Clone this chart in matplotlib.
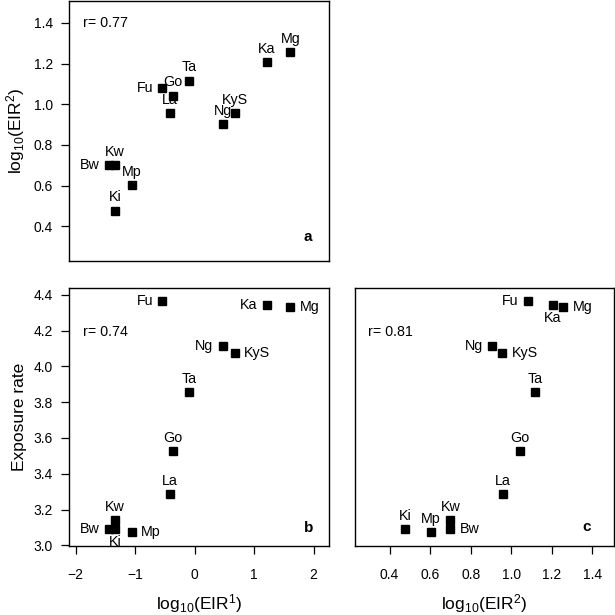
import matplotlib
matplotlib.use("Agg")
import matplotlib.pyplot as plt

plt.rcParams["font.family"] = ["Liberation Sans", "DejaVu Sans"]
plt.rcParams["mathtext.fontset"] = "custom"
plt.rcParams["mathtext.rm"] = "Liberation Sans"
plt.rcParams["mathtext.default"] = "regular"

# site data
sites = ["Bw", "Kw", "Ki", "Mp", "La", "Go", "Fu", "Ta", "Ng", "KyS", "Ka", "Mg"]
log_eir1 = [-1.45, -1.34, -1.34, -1.06, -0.42, -0.36, -0.55, -0.09, 0.47, 0.68, 1.21, 1.61]
log_eir2 = [0.70, 0.70, 0.478, 0.603, 0.957, 1.043, 1.08, 1.116, 0.904, 0.956, 1.206, 1.257]
exposure = [3.09, 3.143, 3.09, 3.074, 3.288, 3.525, 4.368, 3.858, 4.113, 4.076, 4.342, 4.33]

r_values = {"a": 0.77, "b": 0.74, "c": 0.81}

# label side per site: t=above, b=below, l=left, r=right
pos_a = ["l", "t", "t", "t", "t", "t", "l", "t", "t", "t", "t", "t"]
pos_b = ["l", "t", "b", "r", "t", "t", "l", "t", "l", "r", "l", "r"]
pos_c = ["r", "t", "t", "t", "t", "t", "l", "t", "l", "r", "b", "r"]

LBL = 10.3
TICK = 10
TITLE = 12.5
OFFSETS = {
    "t": ((0, 9.5), "center", "center"),
    "b": ((0, -9.0), "center", "center"),
    "l": ((-6.5, 0), "right", "center"),
    "r": ((6.5, 0), "left", "center"),
}


def scatter_panel(ax, x, y, positions):
    ax.plot(x, y, "s", color="black", markersize=5.6, linestyle="none")
    for xi, yi, name, p in zip(x, y, sites, positions):
        off, ha, va = OFFSETS[p]
        ax.annotate(name, (xi, yi), xytext=off, textcoords="offset points",
                    ha=ha, va=va, fontsize=LBL)


def style_axes(ax):
    for sp in ax.spines.values():
        sp.set_linewidth(1.0)
    ax.tick_params(direction="out", length=5.8, width=0.9, labelsize=TICK)
    ax.tick_params(axis="y", pad=6)
    ax.tick_params(axis="x", pad=10)


W = 615.0
fig = plt.figure(figsize=(6.15, 6.15), dpi=100)


def rect(x0, x1, top, bottom):
    return [x0 / W, 1 - bottom / W, (x1 - x0) / W, (bottom - top) / W]


ax_a = fig.add_axes(rect(69.3, 329, 1.3, 261))
ax_b = fig.add_axes(rect(69.3, 329, 287.7, 545.7))
ax_c = fig.add_axes(rect(355, 614, 287.7, 545.7))

eir1_lim = (-2.11, 2.26)
eir2_lim = (0.23, 1.506)
exp_lim = (2.998, 4.44)

# panel a
scatter_panel(ax_a, log_eir1, log_eir2, pos_a)
ax_a.set_xlim(*eir1_lim)
ax_a.set_ylim(*eir2_lim)
ax_a.set_xticks([])
ax_a.set_yticks([0.4, 0.6, 0.8, 1.0, 1.2, 1.4])
ax_a.set_ylabel(r"$log_{10}(EIR^2)$", fontsize=TITLE, labelpad=5)
style_axes(ax_a)
ax_a.text(0.052, 0.915, f"r= {r_values['a']:.2f}", transform=ax_a.transAxes,
          fontsize=LBL, ha="left", va="center")
ax_a.text(0.92, 0.094, "a", transform=ax_a.transAxes, fontsize=11,
          fontweight="bold", ha="center", va="center")

# panel b
scatter_panel(ax_b, log_eir1, exposure, pos_b)
ax_b.set_xlim(*eir1_lim)
ax_b.set_ylim(*exp_lim)
ax_b.set_xticks([-2, -1, 0, 1, 2])
ax_b.set_xticklabels(["\u22122", "\u22121", "0", "1", "2"])
ax_b.set_yticks([3.0, 3.2, 3.4, 3.6, 3.8, 4.0, 4.2, 4.4])
ax_b.set_xlabel(r"$log_{10}(EIR^1)$", fontsize=TITLE, labelpad=7.5)
ax_b.set_ylabel("Exposure rate", fontsize=TITLE, labelpad=5)
style_axes(ax_b)
ax_b.text(0.052, 0.829, f"r= {r_values['b']:.2f}", transform=ax_b.transAxes,
          fontsize=LBL, ha="left", va="center")
ax_b.text(0.92, 0.067, "b", transform=ax_b.transAxes, fontsize=11,
          fontweight="bold", ha="center", va="center")

# panel c
scatter_panel(ax_c, log_eir2, exposure, pos_c)
ax_c.set_xlim(*eir2_lim)
ax_c.set_ylim(*exp_lim)
ax_c.set_xticks([0.4, 0.6, 0.8, 1.0, 1.2, 1.4])
ax_c.set_yticks([])
ax_c.set_xlabel(r"$log_{10}(EIR^2)$", fontsize=TITLE, labelpad=7.5)
style_axes(ax_c)
ax_c.text(0.049, 0.829, f"r= {r_values['c']:.2f}", transform=ax_c.transAxes,
          fontsize=LBL, ha="left", va="center")
ax_c.text(0.895, 0.071, "c", transform=ax_c.transAxes, fontsize=11,
          fontweight="bold", ha="center", va="center")

fig.savefig("out.png", dpi=100, facecolor="white")
